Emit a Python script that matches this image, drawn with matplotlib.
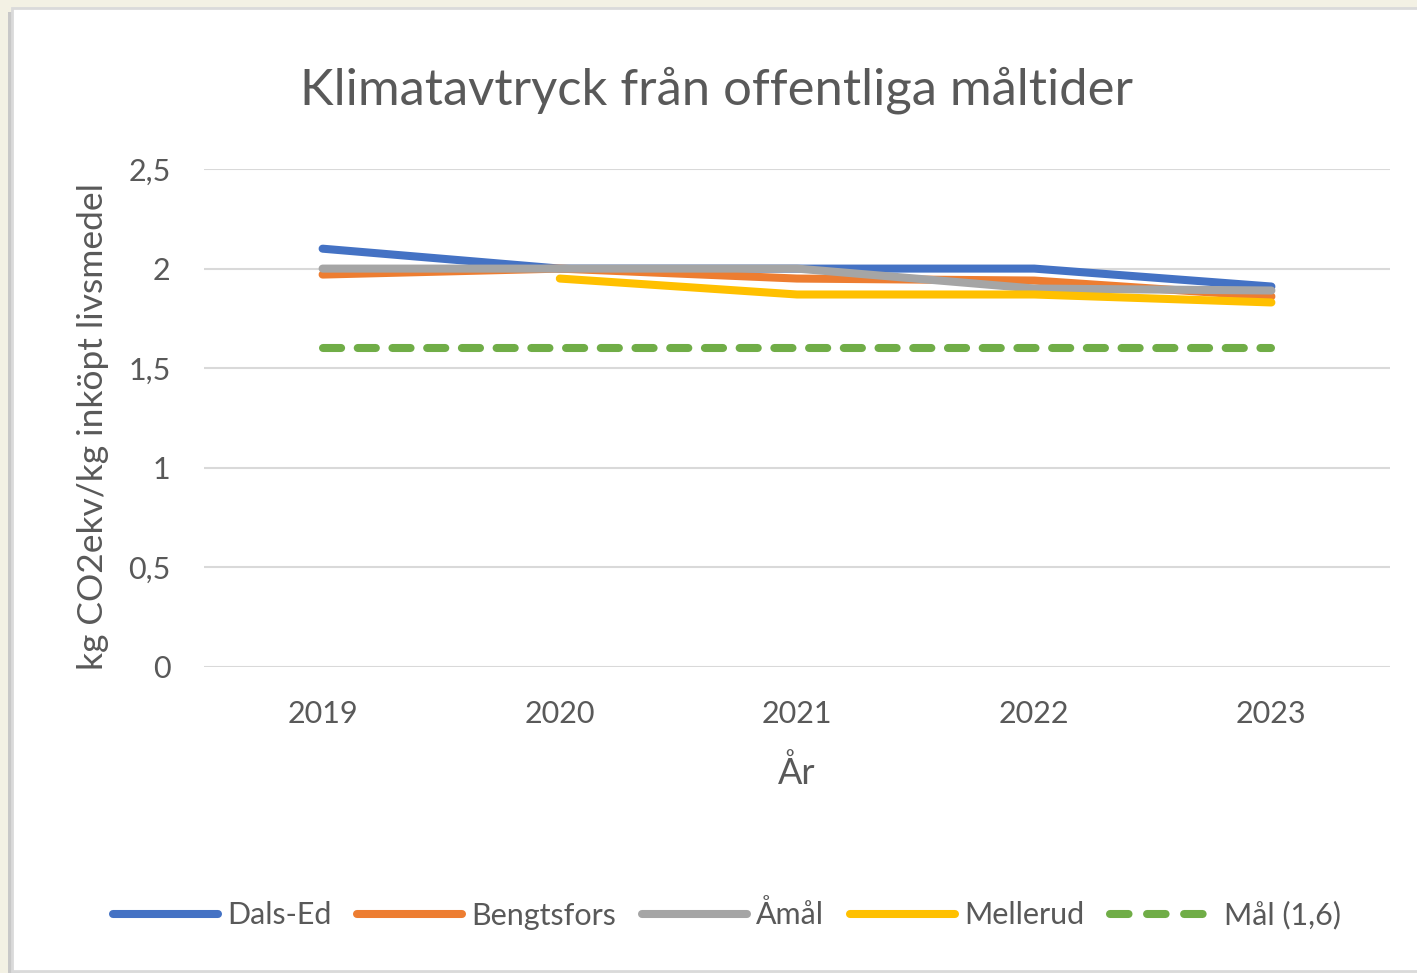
import matplotlib
matplotlib.use("Agg")
import matplotlib.pyplot as plt
from matplotlib.patches import Rectangle
from matplotlib.lines import Line2D

years = ["2019", "2020", "2021", "2022", "2023"]
dals_ed = [2.10, 2.00, 2.00, 2.00, 1.91]
bengtsfors = [1.97, 2.00, 1.95, 1.94, 1.86]
amal = [2.00, 2.00, 2.00, 1.90, 1.89]
mellerud = [None, 1.95, 1.87, 1.87, 1.83]
mal = [1.6, 1.6, 1.6, 1.6, 1.6]

series_names = ["Dals-Ed", "Bengtsfors", "Åmål", "Mellerud", "Mål (1,6)"]
colors = ["#4472C4", "#ED7D31", "#A5A5A5", "#FFC000", "#70AD47"]
yticks = [0, 0.5, 1, 1.5, 2, 2.5]
ytick_labels = ["0", "0,5", "1", "1,5", "2", "2,5"]

plt.rcParams['font.family'] = ['Lato', 'DejaVu Sans']
W, H = 1417, 973
fig = plt.figure(figsize=(W / 100, H / 100), dpi=100)
fig.patch.set_facecolor("#F3F1E4")

# white panel with shadow
fig.patches.append(Rectangle((8 / W, 0), 12 / W, 1 - 12 / H, transform=fig.transFigure,
                             facecolor="#C8C8C8", edgecolor="none", zorder=0))
fig.patches.append(Rectangle((12 / W, 2 / H), 1.0, 1 - 10 / H, transform=fig.transFigure,
                             facecolor="white", edgecolor="#DADADA", linewidth=2, zorder=1))

ax = fig.add_axes([204 / W, 1 - 667 / H, (1390 - 204) / W, (667 - 169) / H])
ax.set_facecolor("none")
ax.set_zorder(2)
x = list(range(len(years)))
lw = 5.8
ax.plot(x, dals_ed, color=colors[0], lw=lw, solid_capstyle="round", solid_joinstyle="round", zorder=3)
ax.plot(x, bengtsfors, color=colors[1], lw=lw, solid_capstyle="round", solid_joinstyle="round", zorder=4)
ax.plot(x, amal, color=colors[2], lw=lw, solid_capstyle="round", solid_joinstyle="round", zorder=5)
mx = [xi for xi, v in zip(x, mellerud) if v is not None]
my = [v for v in mellerud if v is not None]
ax.plot(mx, my, color=colors[3], lw=lw, solid_capstyle="round", solid_joinstyle="round", zorder=6)
ax.plot(x, mal, color=colors[4], lw=lw, dashes=(2.25, 2.06), dash_capstyle="round", zorder=6)

ax.set_xlim(-0.5, 4.5)
ax.set_ylim(0, 2.5)
ax.set_yticks(yticks)
ax.set_yticklabels(ytick_labels)
ax.set_xticks(x)
ax.set_xticklabels(years)
ax.grid(axis="y", color="#D9D9D9", lw=1.5, zorder=1)
ax.set_axisbelow(True)
for s in ax.spines.values():
    s.set_visible(False)
ax.tick_params(length=0, labelsize=22, labelcolor="#595959")
ax.tick_params(axis="x", pad=24)
ax.tick_params(axis="y", pad=24)

ax.set_xlabel("År", fontsize=26, color="#595959", labelpad=19)
ax.set_ylabel("kg CO2ekv/kg inköpt livsmedel", fontsize=25.5, color="#595959")
ax.yaxis.set_label_coords(-(204 - 93) / (1390 - 204), (667 - 427) / (667 - 169))
ax.yaxis.label.set_verticalalignment("center")

fig.text(717 / W, 1 - 90 / H, "Klimatavtryck från offentliga måltider", ha="center", va="center",
         fontsize=36.5, color="#595959")

handles = [Line2D([], [], color=colors[i], lw=lw, solid_capstyle="round") for i in range(4)]
handles.append(Line2D([], [], color=colors[4], lw=lw, dashes=(2.3, 2.3), dash_capstyle="round"))
leg = fig.legend(handles, series_names, loc="center", bbox_to_anchor=(727 / W, 1 - 915 / H),
                 ncol=5, frameon=False, fontsize=22, handlelength=3.43, handletextpad=0.3,
                 columnspacing=0.85, labelcolor="#595959")
leg.set_zorder(3)

fig.savefig("out.png", dpi=100, facecolor=fig.get_facecolor())
